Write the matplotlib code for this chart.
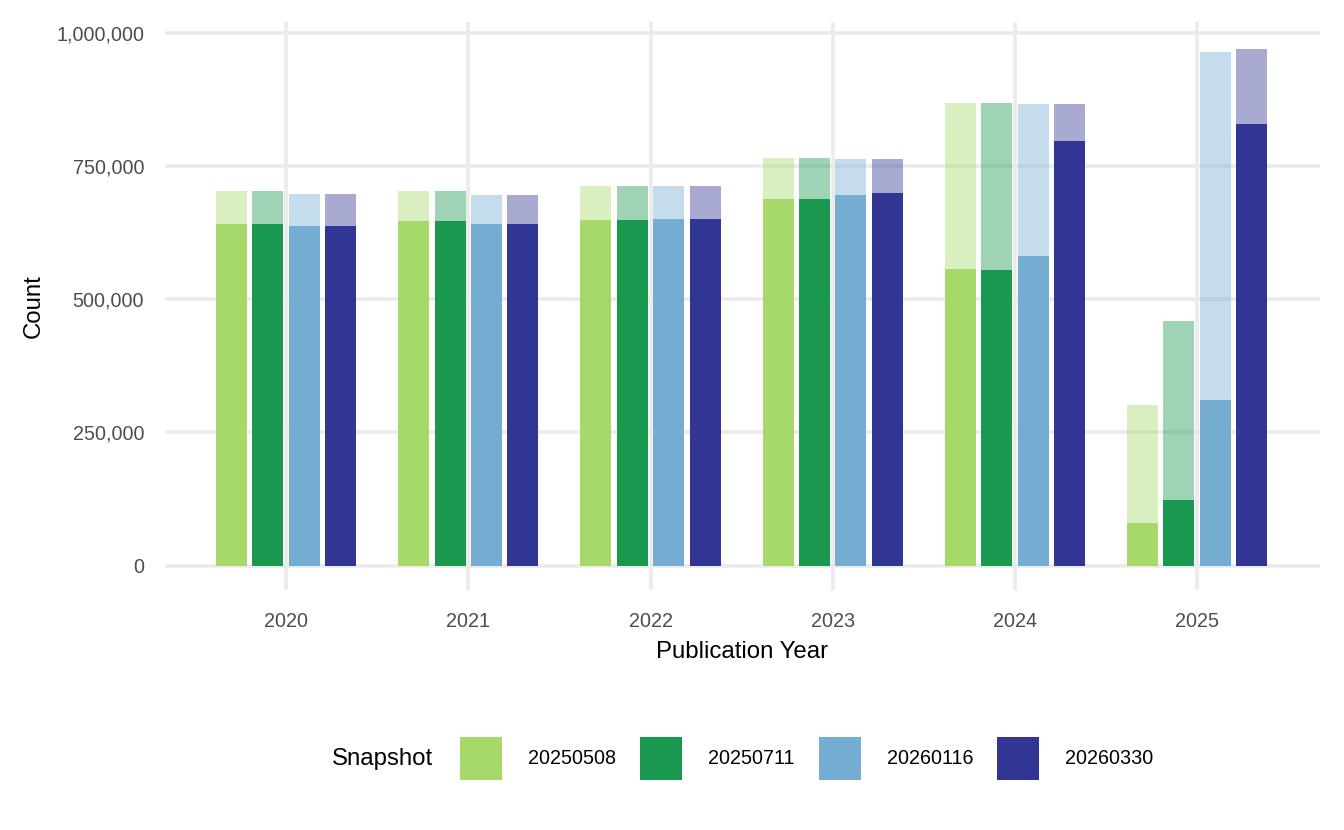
import numpy as np
import matplotlib
matplotlib.use("Agg")
import matplotlib.pyplot as plt
from matplotlib.patches import Patch
from matplotlib.ticker import FuncFormatter

plt.rcParams['font.family'] = ['Liberation Sans', 'DejaVu Sans']

years = ['2020', '2021', '2022', '2023', '2024', '2025']
snapshots = ['20250508', '20250711', '20260116', '20260330']
colors = ['#a6d96a', '#1a9850', '#74add1', '#313695']

# total count per year (faded bar) for each snapshot
total_20250508 = [704000, 704000, 713000, 766000, 869000, 302000]
total_20250711 = [704000, 704000, 713000, 766000, 869000, 460000]
total_20260116 = [698000, 696000, 713000, 764000, 867000, 965000]
total_20260330 = [698000, 696000, 713000, 764000, 867000, 971000]

# subset count per year (solid bar) for each snapshot
part_20250508 = [642000, 648000, 649000, 689000, 557000, 80000]
part_20250711 = [642000, 648000, 649000, 689000, 555000, 123000]
part_20260116 = [638000, 642000, 651000, 696000, 582000, 311000]
part_20260330 = [638000, 642000, 651000, 700000, 798000, 830000]

totals = [total_20250508, total_20250711, total_20260116, total_20260330]
parts = [part_20250508, part_20250711, part_20260116, part_20260330]

fig = plt.figure(figsize=(13.44, 8.3), dpi=100)
ax = fig.add_axes([165 / 1344, 240 / 830, 1155 / 1344, 568 / 830])

x = np.arange(len(years))
width = 0.17
offsets = [-0.3, -0.1, 0.1, 0.3]

for i in range(len(snapshots)):
    ax.bar(x + offsets[i], totals[i], width, color=colors[i], alpha=0.42,
           linewidth=0, zorder=3)
    ax.bar(x + offsets[i], parts[i], width, color=colors[i], linewidth=0,
           zorder=4)

ax.set_xlim(-0.665, 5.675)
ax.set_ylim(-46000, 1021000)
ax.set_xticks(x)
ax.set_xticklabels(years)
ax.set_yticks([0, 250000, 500000, 750000, 1000000])
ax.yaxis.set_major_formatter(FuncFormatter(lambda v, p: f'{int(v):,}'))

ax.grid(True, color='#ebebeb', linewidth=2.6, zorder=0)
ax.set_axisbelow(True)
for s in ax.spines.values():
    s.set_visible(False)
ax.tick_params(length=0, labelsize=14.2, colors='#4d4d4d')
ax.tick_params(axis='y', pad=15)
ax.tick_params(axis='x', pad=16)

ax.set_xlabel('Publication Year', fontsize=17.3, color='black', labelpad=7)
ax.set_ylabel('Count', fontsize=17.3, color='black', labelpad=8)

handles = [Patch(facecolor=c, edgecolor='none') for c in colors]
fig.legend(handles, snapshots, loc='center left', bbox_to_anchor=(460 / 1344, 1 - 758.5 / 830),
           ncol=4, frameon=False, fontsize=14.2, handlelength=2.13, handleheight=2.9,
           handletextpad=1.32, columnspacing=1.22, borderpad=0, borderaxespad=0)
fig.text(332 / 1344, 1 - 759 / 830, 'Snapshot', fontsize=17.3, va='center', ha='left')

fig.savefig('out.png', dpi=100, facecolor='white')
